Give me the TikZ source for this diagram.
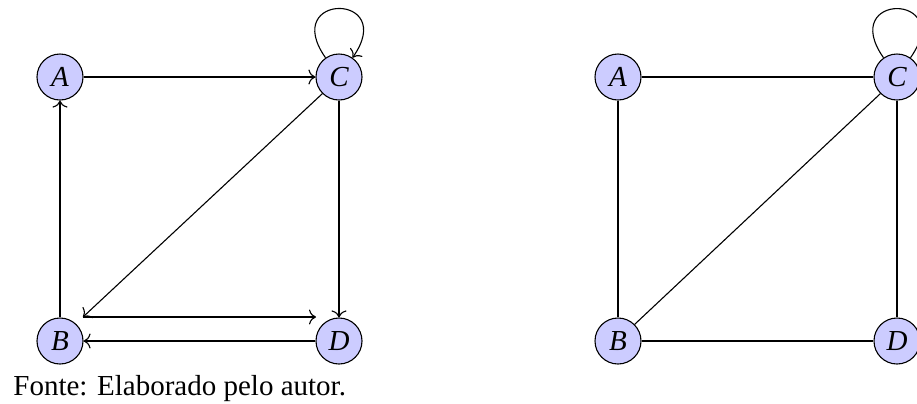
\documentclass[tikz,border=0pt]{standalone}
\usepackage{fontspec}
\setmainfont{Liberation Serif}
\usetikzlibrary{arrows.meta}
\begin{document}
\begin{tikzpicture}[x=0.5pt,y=-0.5pt,
  vert/.style={circle,draw,line width=0.55pt,fill=blue!20,minimum size=23pt,inner sep=0pt,
    font=\fontsize{14.5}{16}\selectfont\itshape},
  arc/.style={draw,line width=0.55pt,-{To[length=3.5pt,width=7.5pt]}},
  link/.style={draw,line width=0.55pt}]
\useasboundingbox (0,0) rectangle (917,403);

% directed graph
\node[vert] (A) at (60,77) {A};
\node[vert] (C) at (339,77) {C};
\node[vert] (B) at (60,341) {B};
\node[vert] (D) at (339,341) {D};
\coordinate (bt) at (83,317);
\coordinate (dt) at (316,317);

\draw[arc] (A) -- (C);
\draw[arc] (C) -- (D);
\draw[arc] (B) -- (A);
\draw[arc] (C.225) -- (bt);
\draw[arc] (bt) -- (dt);
\draw[arc] (D) -- (B);
\draw[arc] (C.125) .. controls +(125:40pt) and +(55:40pt) .. (C.55);

\node[anchor=base west,inner sep=0pt,font=\fontsize{14.5}{16}\selectfont] (src) at (13,395)
  {Fonte: Elaborado pelo autor.};

% undirected graph
\node[vert] (A2) at (618,77) {A};
\node[vert] (C2) at (897,77) {C};
\node[vert] (B2) at (618,341) {B};
\node[vert] (D2) at (897,341) {D};

\draw[link] (A2) -- (C2);
\draw[link] (A2) -- (B2);
\draw[link] (C2) -- (D2);
\draw[link] (B2) -- (D2);
\draw[link] (B2.45) -- (C2.225);
\draw[link] (C2.125) .. controls +(125:40pt) and +(55:40pt) .. (C2.55);
\end{tikzpicture}
\end{document}
